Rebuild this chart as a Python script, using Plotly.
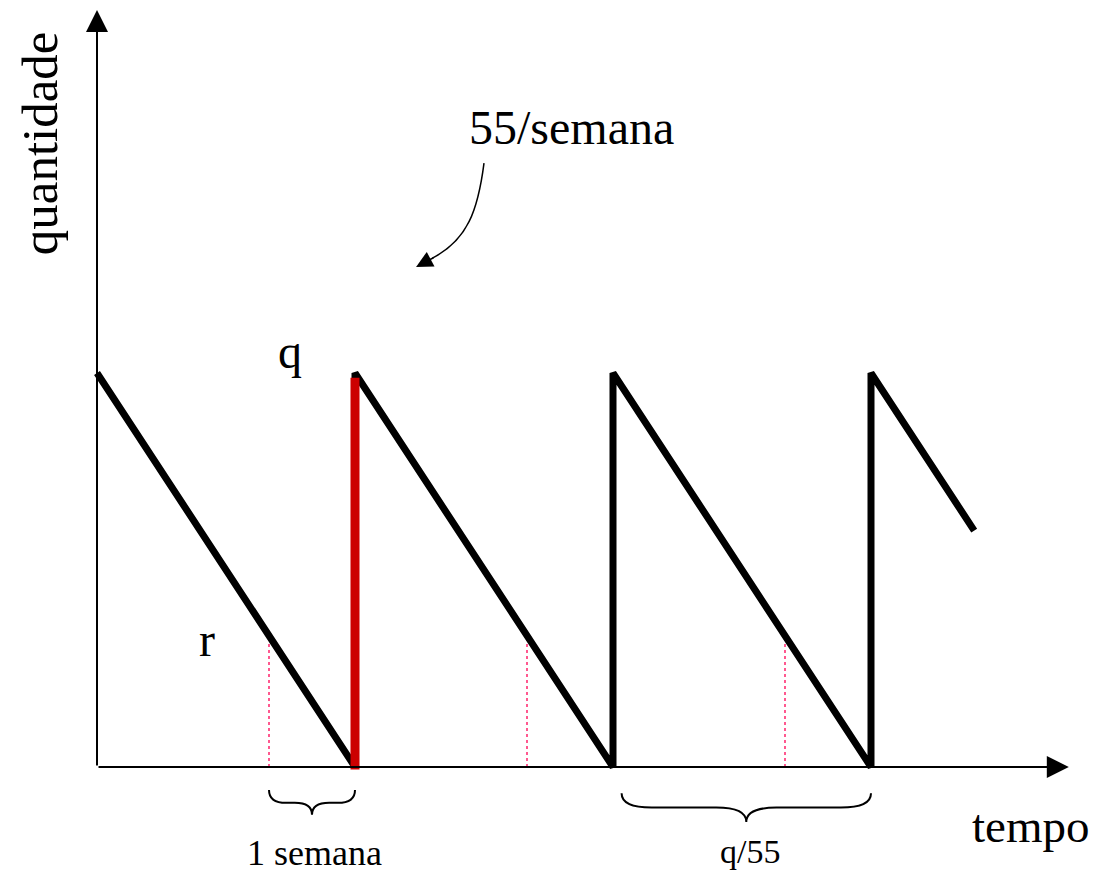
import plotly.graph_objects as go

# dados do diagrama (tempo em semanas, quantidade em unidades)
demanda = 55          # 55/semana
q = 165               # lote
r = 55                # ponto de reposicao
saw_t = [0, 3, 3, 6, 6, 9, 9, 10.2]
saw_q = [165, 0, 165, 0, 165, 0, 165, 99]
reorder_t = [2, 5, 8]
red_t = [3, 3]
red_q = [-1, 163]

# limites dos eixos (1 semana = 86 px, 165 unid = 394 px); a pagina tem 8 px de margem
x_range = [(8 - 97) / 86, (1093 - 97) / 86]
y_range = [-(876 - 767) / 2.388, (767 - 8) / 2.388]

fig = go.Figure()

# linhas pontilhadas do ponto de reposicao
for t in reorder_t:
    fig.add_trace(go.Scatter(x=[t, t], y=[0, r], mode='lines',
                             line=dict(color='#ff0055', width=1.3, dash='dot'),
                             hoverinfo='skip'))

# dente de serra
fig.add_trace(go.Scatter(x=saw_t, y=saw_q, mode='lines',
                         line=dict(color='black', width=7), hoverinfo='skip'))

# chegada do pedido em vermelho
fig.add_trace(go.Scatter(x=red_t, y=red_q, mode='lines',
                         line=dict(color='#cc0000', width=9), hoverinfo='skip'))


# chave horizontal
def brace(x0, x1, yt, ym, yb, d=0.2):
    xm = (x0 + x1) / 2
    return (f'M {x0},{yt} Q {x0},{ym} {x0 + d},{ym} L {xm - d},{ym} '
            f'Q {xm},{ym} {xm},{yb} Q {xm},{ym} {xm + d},{ym} '
            f'L {x1 - d},{ym} Q {x1},{ym} {x1},{yt}')


fig.add_shape(type='path', path=brace(2.0, 3.0, -9.6, -15.0, -20.0),
              line=dict(color='black', width=2), xref='x', yref='y')
fig.add_shape(type='path', path=brace(6.1, 9.0, -11.0, -17.0, -23.0, d=0.35),
              line=dict(color='black', width=2), xref='x', yref='y')

# seta curva "55/semana"
fig.add_shape(type='path',
              path='M 4.50,252.9 C 4.43,233.2 4.31,220.7 3.90,213.1',
              line=dict(color='black', width=1.5), xref='x', yref='y')

annotations = [
    # eixos
    dict(x=0, y=317, ax=0, ay=0),
    dict(x=11.3, y=0, ax=0, ay=0),
]
for a in annotations:
    fig.add_annotation(x=a['x'], y=a['y'], ax=a['ax'], ay=a['ay'],
                       xref='x', yref='y', axref='x', ayref='y',
                       text='', showarrow=True, arrowhead=2, arrowsize=2.2,
                       arrowwidth=2, arrowcolor='black', standoff=0)

fig.add_annotation(x=3.71, y=209.4, ax=3.93, ay=213.6,
                   xref='x', yref='y', axref='x', ayref='y',
                   text='', showarrow=True, arrowhead=2, arrowsize=2.2,
                   arrowwidth=1.5, arrowcolor='black', standoff=0)

font = 'Liberation Serif, Times New Roman, serif'
labels = [
    ('quantidade', -0.66, 261.3, 51, -90),
    ('55/semana', 5.52, 268.0, 48, 0),
    ('q', 2.24, 174.0, 48, 0),
    ('r', 1.28, 53.5, 48, 0),
    ('tempo', 10.86, -24.5, 47, 0),
    ('1 semana', 2.53, -36.0, 36, 0),
    ('q/55', 7.59, -35.5, 34, 0),
]
for text, x, y, size, angle in labels:
    fig.add_annotation(x=x, y=y, xref='x', yref='y', text=text,
                       showarrow=False, textangle=angle, borderpad=0,
                       font=dict(family=font, size=size, color='black'))

fig.update_layout(
    width=1085, height=868,
    margin=dict(l=0, r=0, t=0, b=0),
    plot_bgcolor='white', paper_bgcolor='white',
    showlegend=False,
    xaxis=dict(range=x_range, visible=False, fixedrange=True),
    yaxis=dict(range=y_range, visible=False, fixedrange=True),
)

fig.write_html("out.html")
